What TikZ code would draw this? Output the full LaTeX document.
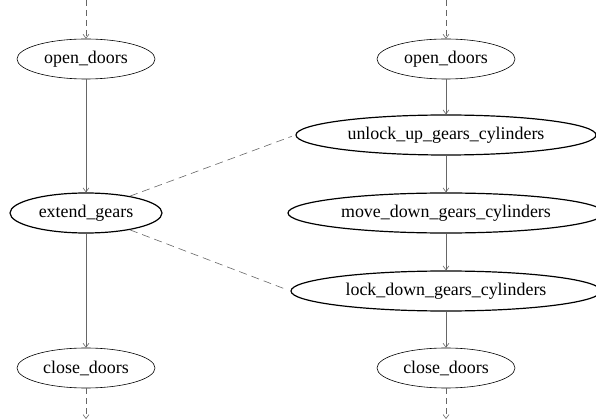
\documentclass[tikz,border=0pt]{standalone}
\usepackage{fontspec}
\setmainfont{Liberation Serif}
\usetikzlibrary{shapes.geometric,arrows.meta,positioning}

\begin{document}
\begin{tikzpicture}[x=1pt,y=-1pt,>={Straight Barb[length=4pt,width=6pt]},node distance=77pt,
    state/.style={ellipse,draw,inner sep=0pt,minimum height=40pt,font=\fontsize{17.9}{20}\selectfont},
    door/.style={state,line width=0.6pt,minimum width=138pt},
    action/.style={state,line width=1.2pt},
    flow/.style={->,draw=black!60,line width=0.6pt},
    loose/.style={flow,dash pattern=on 6pt off 4pt},
    link/.style={draw=black!60,line width=0.6pt,dash pattern=on 8pt off 5pt}]

    \useasboundingbox (0,0) rectangle (596,419);

    \node[door] (od1) at (86,59) {open\_doors};
    \node[action,minimum width=152pt] (eg) [below of = od1, node distance=154pt] {extend\_gears};
    \node[door] (cd1) [below of = eg, node distance=155pt] {close\_doors};

    \node[door] (od2) at (446,59) {open\_doors};
    \node[action,minimum width=300pt] (uu) [below of = od2, node distance=76pt] {unlock\_up\_gears\_cylinders};
    \node[action,minimum width=316pt] (md) [below of = uu, node distance=78pt] {move\_down\_gears\_cylinders};
    \node[action,minimum width=310pt] (ld) [below of = md, node distance=78pt] {lock\_down\_gears\_cylinders};
    \node[door] (cd2) [below of = ld] {close\_doors};

    \coordinate (in1) at (86,0);
    \coordinate (out1) at (86,419);
    \coordinate (in2) at (446,0);
    \coordinate (out2) at (446,419);

    % left column
    \draw[loose] (in1) -- (od1);
    \draw[flow] (od1) -- (eg);
    \draw[flow] (eg) -- (cd1);
    \draw[loose] (cd1) -- (out1);

    % right column
    \draw[loose] (in2) -- (od2);
    \draw[flow] (od2) -- (uu);
    \draw[flow] (uu) -- (md);
    \draw[flow] (md) -- (ld);
    \draw[flow] (ld) -- (cd2);
    \draw[loose] (cd2) -- (out2);

    % refinement
    \draw[link,shorten >=4pt] (eg.21) -- (uu.west);
    \draw[link,shorten >=4pt] (eg.-21) -- (ld.west);
\end{tikzpicture}
\end{document}
